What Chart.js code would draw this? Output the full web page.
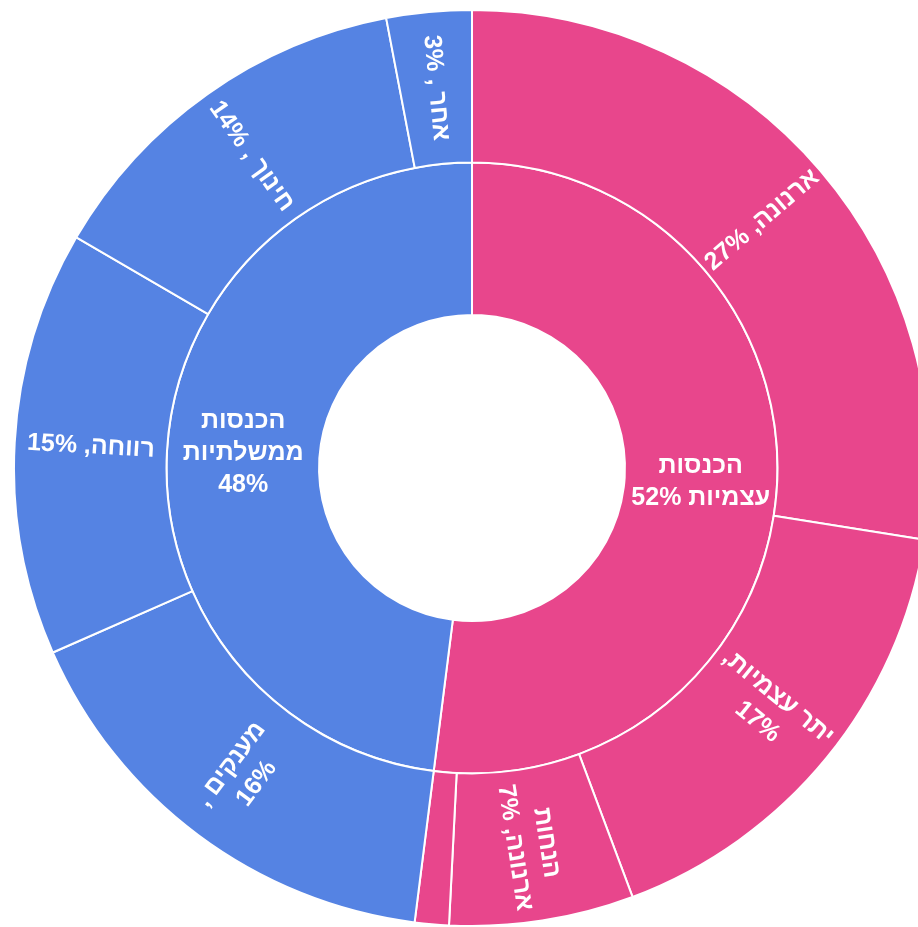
<!DOCTYPE html>
<html lang="he">
<head>
<meta charset="utf-8">
<script src="https://cdn.jsdelivr.net/npm/chart.js@4/dist/chart.umd.min.js"></script>
<style>
    html, body { margin: 0; padding: 0; background: #fff; overflow: hidden; width: 918px; height: 927px; }
    #wrap { position: absolute; left: 13px; top: 9px; width: 918px; height: 918px; }
</style>
</head>
<body>
<div id="wrap"><canvas id="sunburst"></canvas></div>
<script>
// inner ring (groups)
const innerValues = [52, 48];
const innerLabels = [['הכנסות', 'עצמיות 52%'], ['הכנסות', 'ממשלתיות', '48%']];

// outer ring (items)
const outerValues = [27.5, 16.8, 6.5, 1.2, 16.4, 15, 13.6, 3];
const outerGroup = [0, 0, 0, 0, 1, 1, 1, 1];
const outerLabels = [
    ['ארנונה, 27%'],
    ['יתר עצמיות,', '17%'],
    ['הנחות', 'ארנונה, 7%'],
    [],
    ['מענקים ,', '16%'],
    ['רווחה, 15%'],
    ['חינוך , 14%'],
    ['אחר , 3%']
];

const groupColors = ['#E8468C', '#5583E3'];

const labelPlugin = {
    id: 'arcLabels',
    afterDatasetsDraw(chart) {
        const ctx = chart.ctx;
        const sets = [outerLabels, innerLabels];
        ctx.save();
        ctx.fillStyle = '#ffffff';
        ctx.font = 'bold 25px "Liberation Sans", Arial, sans-serif';
        ctx.direction = 'rtl';
        ctx.textAlign = 'center';
        ctx.textBaseline = 'middle';
        sets.forEach((labels, di) => {
            const meta = chart.getDatasetMeta(di);
            meta.data.forEach((arc, i) => {
                const lines = labels[i];
                if (!lines || !lines.length) return;
                const p = arc.getProps(['x', 'y', 'startAngle', 'endAngle', 'innerRadius', 'outerRadius']);
                const a = (p.startAngle + p.endAngle) / 2;
                const r = (p.innerRadius + p.outerRadius) / 2;
                const cx = p.x + Math.cos(a) * r;
                const cy = p.y + Math.sin(a) * r;
                let rot = 0;
                if (di === 0) {
                    rot = Math.cos(a) >= 0 ? a : a + Math.PI;
                }
                const lh = 32;
                ctx.save();
                ctx.translate(cx, cy);
                ctx.rotate(rot);
                lines.forEach((t, k) => {
                    ctx.fillText(t, 0, (k - (lines.length - 1) / 2) * lh);
                });
                ctx.restore();
            });
        });
        ctx.restore();
    }
};

new Chart(document.getElementById('sunburst'), {
    type: 'doughnut',
    data: {
        datasets: [
            {
                data: outerValues,
                backgroundColor: outerGroup.map(g => groupColors[g]),
                borderColor: '#ffffff',
                borderWidth: 2
            },
            {
                data: innerValues,
                backgroundColor: groupColors,
                borderColor: '#ffffff',
                borderWidth: 2
            }
        ]
    },
    options: {
        responsive: true,
        maintainAspectRatio: false,
        animation: false,
        cutout: '33.4%',
        plugins: {
            legend: { display: false },
            tooltip: { enabled: false }
        }
    },
    plugins: [labelPlugin]
});
</script>
</body>
</html>
